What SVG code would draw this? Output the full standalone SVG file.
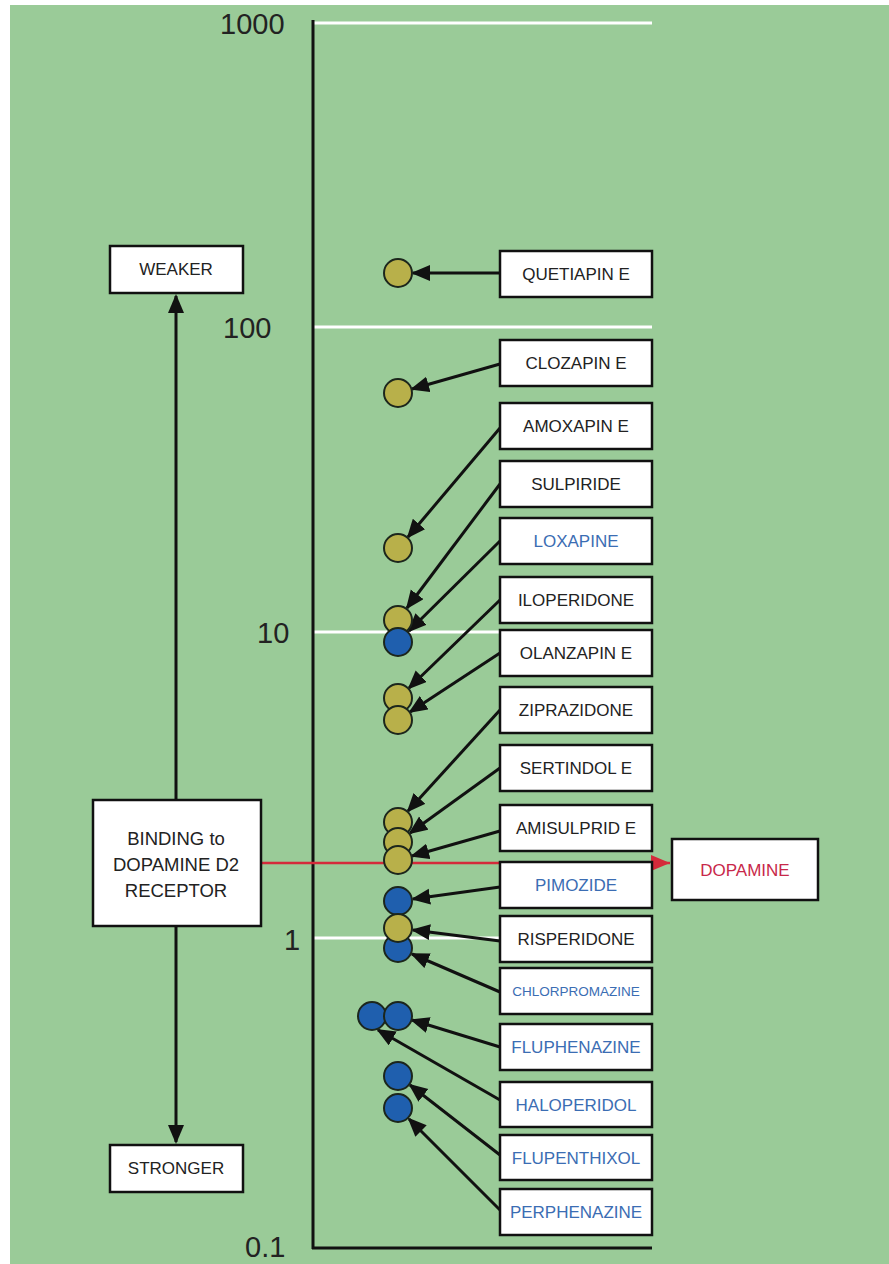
<svg xmlns="http://www.w3.org/2000/svg" width="889" height="1264" viewBox="0 0 889 1264">
<style>
.bg{fill:#9acb98}
.grid{stroke:#ffffff;stroke-width:3}
.axis{stroke:#111;stroke-width:3;fill:none}
.box{fill:#fff;stroke:#111;stroke-width:2.5}
.lbl{font-family:"Liberation Sans",Arial,sans-serif;font-size:17px;fill:#222;text-anchor:middle}
.blue{fill:#3b6db3}
.tick{font-family:"Liberation Sans",Arial,sans-serif;font-size:29px;fill:#222}
.ol{fill:#b8b04a;stroke:#1c261c;stroke-width:2}
.bl{fill:#1f5fae;stroke:#1c261c;stroke-width:2}
.arr{stroke:#111;stroke-width:3;fill:none;marker-end:url(#ah)}
.side{stroke:#111;stroke-width:3;fill:none}
</style>
<defs>
<marker id="ah" markerUnits="userSpaceOnUse" markerWidth="20" markerHeight="18" refX="17" refY="8" orient="auto">
<path d="M0,0 L19,8 L0,16 z" fill="#111"/>
</marker>
<marker id="ahr" markerUnits="userSpaceOnUse" markerWidth="20" markerHeight="18" refX="19" refY="8" orient="auto">
<path d="M0,0 L19,8 L0,16 z" fill="#d42a3a"/>
</marker>
</defs>
<rect width="889" height="1264" fill="#fff"/>
<rect class="bg" x="10" y="5" width="879" height="1259"/>

<g id="axis">
<line class="grid" x1="313" y1="23" x2="652" y2="23"/>
<line class="grid" x1="313" y1="327" x2="652" y2="327"/>
<line class="grid" x1="313" y1="632" x2="652" y2="632"/>
<line class="grid" x1="313" y1="938" x2="652" y2="938"/>
<line class="axis" x1="313" y1="20" x2="313" y2="1249"/>
<line class="axis" x1="312" y1="1248" x2="652" y2="1248"/>
<text class="tick" x="220" y="34">1000</text>
<text class="tick" x="223" y="338">100</text>
<text class="tick" x="257" y="643">10</text>
<text class="tick" x="284" y="950">1</text>
<text class="tick" x="245" y="1257">0.1</text>
</g>

<g id="connectors">
<line class="side" x1="176" y1="800" x2="176" y2="296" marker-end="url(#ah)"/>
<line class="side" x1="176" y1="927" x2="176" y2="1142" marker-end="url(#ah)"/>
<line x1="262" y1="863" x2="670" y2="863" stroke="#d42a3a" stroke-width="2.5" marker-end="url(#ahr)"/>
<line class="arr" x1="500" y1="273" x2="413" y2="273"/>
<line class="arr" x1="500" y1="364" x2="412" y2="389"/>
<line class="arr" x1="500" y1="428" x2="408" y2="537"/>
<line class="arr" x1="500" y1="484" x2="407" y2="608"/>
<line class="arr" x1="500" y1="541" x2="409" y2="631"/>
<line class="arr" x1="500" y1="600" x2="409" y2="688"/>
<line class="arr" x1="500" y1="653" x2="410" y2="712"/>
<line class="arr" x1="500" y1="710" x2="408" y2="811"/>
<line class="arr" x1="500" y1="768" x2="410" y2="833"/>
<line class="arr" x1="500" y1="831" x2="412" y2="856"/>
<line class="arr" x1="500" y1="887" x2="413" y2="899"/>
<line class="arr" x1="500" y1="941" x2="413" y2="930"/>
<line class="arr" x1="500" y1="992" x2="412" y2="954"/>
<line class="arr" x1="500" y1="1047" x2="412" y2="1020"/>
<line class="arr" x1="500" y1="1100" x2="378" y2="1030"/>
<line class="arr" x1="500" y1="1155" x2="410" y2="1085"/>
<line class="arr" x1="500" y1="1210" x2="409" y2="1119"/>
</g>

<g id="circles">
<circle class="ol" cx="398" cy="273" r="14"/>
<circle class="ol" cx="398" cy="393" r="14"/>
<circle class="ol" cx="398" cy="548" r="14"/>
<circle class="ol" cx="398" cy="620" r="14"/>
<circle class="bl" cx="398" cy="642" r="14"/>
<circle class="ol" cx="398" cy="698" r="14"/>
<circle class="ol" cx="398" cy="720" r="14"/>
<circle class="ol" cx="398" cy="822" r="14"/>
<circle class="ol" cx="398" cy="842" r="14"/>
<circle class="ol" cx="398" cy="860" r="14"/>
<circle class="bl" cx="398" cy="901" r="14"/>
<circle class="bl" cx="398" cy="948" r="14"/>
<circle class="ol" cx="398" cy="928" r="14"/>
<circle class="bl" cx="372" cy="1016" r="14"/>
<circle class="bl" cx="398" cy="1016" r="14"/>
<circle class="bl" cx="398" cy="1076" r="14"/>
<circle class="bl" cx="398" cy="1108" r="14"/>
</g>

<g id="weaker"><rect class="box" x="110" y="246" width="133" height="47"/><text class="lbl" x="176" y="275">WEAKER</text></g>
<g id="stronger"><rect class="box" x="110" y="1145" width="133" height="47"/><text class="lbl" x="176" y="1174">STRONGER</text></g>
<g id="binding"><rect class="box" x="93" y="800" width="168" height="126"/>
<text class="lbl" x="176" y="845" style="font-size:18.5px">BINDING to</text>
<text class="lbl" x="176" y="871" style="font-size:18.5px">DOPAMINE D2</text>
<text class="lbl" x="176" y="897" style="font-size:18.5px">RECEPTOR</text></g>
<g id="dopamine"><rect class="box" x="672" y="839" width="146" height="61"/><text class="lbl" x="745" y="876" style="fill:#c8284a">DOPAMINE</text></g>

<g id="quetiapine"><rect class="box" x="500" y="251" width="152" height="46"/><text class="lbl" x="576" y="280">QUETIAPIN E</text></g>
<g id="clozapine"><rect class="box" x="500" y="340" width="152" height="46"/><text class="lbl" x="576" y="369">CLOZAPIN E</text></g>
<g id="amoxapine"><rect class="box" x="500" y="403" width="152" height="46"/><text class="lbl" x="576" y="432">AMOXAPIN E</text></g>
<g id="sulpiride"><rect class="box" x="500" y="461" width="152" height="46"/><text class="lbl" x="576" y="490">SULPIRIDE</text></g>
<g id="loxapine"><rect class="box" x="500" y="518" width="152" height="46"/><text class="lbl blue" x="576" y="547">LOXAPINE</text></g>
<g id="iloperidone"><rect class="box" x="500" y="577" width="152" height="46"/><text class="lbl" x="576" y="606">ILOPERIDONE</text></g>
<g id="olanzapine"><rect class="box" x="500" y="630" width="152" height="46"/><text class="lbl" x="576" y="659">OLANZAPIN E</text></g>
<g id="ziprazidone"><rect class="box" x="500" y="687" width="152" height="46"/><text class="lbl" x="576" y="716">ZIPRAZIDONE</text></g>
<g id="sertindole"><rect class="box" x="500" y="745" width="152" height="46"/><text class="lbl" x="576" y="774">SERTINDOL E</text></g>
<g id="amisulpride"><rect class="box" x="500" y="805" width="152" height="46"/><text class="lbl" x="576" y="834">AMISULPRID E</text></g>
<g id="pimozide"><rect class="box" x="500" y="862" width="152" height="46"/><text class="lbl blue" x="576" y="891">PIMOZIDE</text></g>
<g id="risperidone"><rect class="box" x="500" y="916" width="152" height="46"/><text class="lbl" x="576" y="945">RISPERIDONE</text></g>
<g id="chlorpromazine"><rect class="box" x="500" y="968" width="152" height="46"/><text class="lbl blue" x="576" y="996" style="font-size:13.5px">CHLORPROMAZINE</text></g>
<g id="fluphenazine"><rect class="box" x="500" y="1024" width="152" height="46"/><text class="lbl blue" x="576" y="1053">FLUPHENAZINE</text></g>
<g id="haloperidol"><rect class="box" x="500" y="1082" width="152" height="45"/><text class="lbl blue" x="576" y="1111">HALOPERIDOL</text></g>
<g id="flupenthixol"><rect class="box" x="500" y="1135" width="152" height="45"/><text class="lbl blue" x="576" y="1164">FLUPENTHIXOL</text></g>
<g id="perphenazine"><rect class="box" x="500" y="1189" width="152" height="46"/><text class="lbl blue" x="576" y="1218">PERPHENAZINE</text></g>
</svg>
